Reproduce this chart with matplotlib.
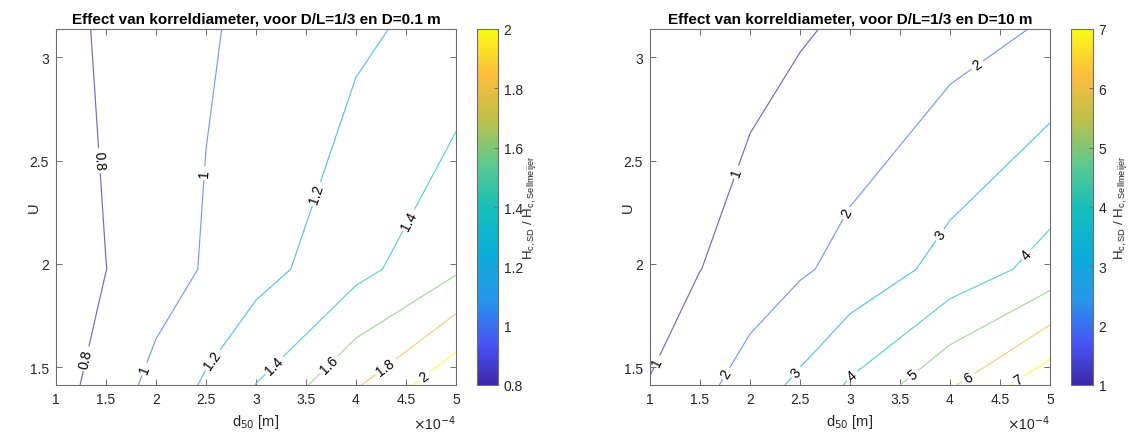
import numpy as np
import matplotlib
matplotlib.use('Agg')
import matplotlib.pyplot as plt
from matplotlib.colors import LinearSegmentedColormap, Normalize
from matplotlib.cm import ScalarMappable
from matplotlib.ticker import FuncFormatter, FixedLocator

plt.rcParams['font.family'] = ['Liberation Sans', 'DejaVu Sans']

# ---------------- data ----------------
d50 = np.array([1.0, 1.5, 2.0, 2.5, 3.0, 4.0, 5.0]) * 1e-4   # [m]
U = np.array([1.414, 1.974, 3.137])

# Hc,SD / Hc,Sellmeijer for D = 0.1 m (rows: U, cols: d50)
ratio_D01 = np.array([
    [0.711, 0.896, 1.057, 1.228, 1.404, 1.778, 2.170],
    [0.720, 0.798, 0.914, 1.017, 1.126, 1.339, 1.570],
    [0.687, 0.850, 0.920, 0.983, 1.037, 1.165, 1.273],
])
# Hc,SD / Hc,Sellmeijer for D = 10 m
ratio_D10 = np.array([
    [1.013, 1.665, 2.533, 3.200, 4.126, 5.874, 7.750],
    [0.850, 0.989, 1.325, 1.872, 2.296, 3.360, 4.380],
    [0.450, 0.600, 0.750, 0.906, 1.160, 1.592, 2.115],
])
levels_D01 = [0.8, 1.0, 1.2, 1.4, 1.6, 1.8, 2.0]
levels_D10 = [1, 2, 3, 4, 5, 6, 7]
clim_D01 = (0.8, 2.0)
clim_D10 = (1, 7)
titles = ['Effect van korreldiameter, voor D/L=1/3 en D=0.1 m',
          'Effect van korreldiameter, voor D/L=1/3 en D=10 m']
xlabel = r'd$_{50}$ [m]'
ylabel = 'U'
cbar_label = r'H$_{\mathregular{c,SD}}$ / H$_{\mathregular{c,Sellmeijer}}$'
xtick_vals = np.array([1.0, 1.5, 2.0, 2.5, 3.0, 3.5, 4.0, 4.5, 5.0]) * 1e-4
ytick_vals = [1.5, 2.0, 2.5, 3.0]

# label anchor positions (d50 in 1e-4 m, U)
label_pos_D01 = [(1.43, 2.50), (1.31, 1.54), (2.48, 2.44), (1.89, 1.49),
                 (3.60, 2.34), (2.58, 1.53), (4.53, 2.21), (3.18, 1.51),
                 (3.73, 1.51), (4.28, 1.51), (4.68, 1.46)]
label_pos_D10 = [(1.10, 1.52), (1.83, 2.45), (1.76, 1.47), (2.95, 2.25),
                 (4.28, 2.96), (2.45, 1.48), (3.90, 2.14), (3.03, 1.45),
                 (4.67, 2.09), (3.64, 1.46), (4.20, 1.44), (4.67, 1.45)]

# parula-like colormap
parula_pts = [
    (0.000, (0.2422, 0.1504, 0.6603)),
    (0.111, (0.2810, 0.3228, 0.9579)),
    (0.238, (0.1540, 0.5902, 0.9218)),
    (0.365, (0.0384, 0.6736, 0.8499)),
    (0.492, (0.0770, 0.7427, 0.7368)),
    (0.619, (0.3598, 0.7918, 0.5630)),
    (0.746, (0.7458, 0.7525, 0.2925)),
    (0.873, (0.9932, 0.7385, 0.2409)),
    (1.000, (0.9769, 0.9839, 0.0805)),
]
parula = LinearSegmentedColormap.from_list('parula', parula_pts)

# ---------------- figure ----------------
W, H = 1129, 435
fig = plt.figure(figsize=(W / 100, H / 100), dpi=100)

def frac(x0, x1, y0, y1):
    return [x0 / W, 1 - y1 / H, (x1 - x0) / W, (y1 - y0) / H]

axes_px = [(56, 456, 30, 386), (650, 1050, 30, 386)]
cbar_px = [(477, 498, 30, 386), (1071, 1093, 30, 386)]
cbar_label_x = [2.1, 1.86]

edge = '#6e6e6e'
txt = '#262626'
fade = 0.3   # thin MATLAB lines render pale

datasets = [(ratio_D01, levels_D01, clim_D01, label_pos_D01),
            (ratio_D10, levels_D10, clim_D10, label_pos_D10)]

for i, (Z, levels, clim, lpos) in enumerate(datasets):
    ax = fig.add_axes(frac(*axes_px[i]))
    norm = Normalize(vmin=clim[0], vmax=clim[1])
    line_cols = [tuple(np.array(parula(norm(lv))[:3]) * (1 - fade) + fade)
                 for lv in levels]
    cs = ax.contour(d50, U, Z, levels=levels, colors=line_cols,
                    linewidths=0.85)
    manual = [(x * 1e-4, y) for x, y in lpos]
    ax.clabel(cs, fmt='%g', fontsize=10, inline=True, inline_spacing=3,
              colors='black', manual=manual)
    ax.set_xlim(d50[0], d50[-1])
    ax.set_ylim(U[0], U[-1])
    ax.xaxis.set_major_locator(FixedLocator(xtick_vals))
    ax.xaxis.set_major_formatter(FuncFormatter(lambda v, p: f'{v * 1e4:g}'))
    ax.yaxis.set_major_locator(FixedLocator(ytick_vals))
    ax.yaxis.set_major_formatter(FuncFormatter(lambda v, p: f'{v:g}'))
    ax.tick_params(direction='in', length=4, width=0.7, colors=edge,
                   labelcolor=txt, labelsize=10, top=True, right=True, pad=5)
    for s in ax.spines.values():
        s.set_color(edge)
        s.set_linewidth(0.8)
    ax.set_title(titles[i], fontsize=11, fontweight='bold', color='black',
                 pad=5)
    ax.set_xlabel(xlabel, fontsize=10.5, color=txt)
    ax.xaxis.set_label_coords(0.5, -0.075)
    ax.set_ylabel(ylabel, fontsize=10.5, color=txt)
    ax.yaxis.set_label_coords(-0.038, 0.5)
    ax.text(1.0, -0.107, r'$\times$10$^{-4}$', transform=ax.transAxes,
            ha='right', va='center', fontsize=10, color=txt)

    cax = fig.add_axes(frac(*cbar_px[i]))
    cb = fig.colorbar(ScalarMappable(norm=norm, cmap=parula), cax=cax)
    cb.set_ticks(levels)
    cb.ax.yaxis.set_major_formatter(FuncFormatter(lambda v, p: f'{v:g}'))
    cb.ax.tick_params(direction='in', length=3, width=0.7, colors=edge,
                      labelcolor=txt, labelsize=10, pad=4)
    cb.outline.set_edgecolor(edge)
    cb.outline.set_linewidth(0.8)
    cb.ax.set_ylabel(cbar_label, fontsize=9.5, color=txt)
    cb.ax.yaxis.set_label_coords(cbar_label_x[i], 0.5)

fig.savefig('out.png', dpi=100)
